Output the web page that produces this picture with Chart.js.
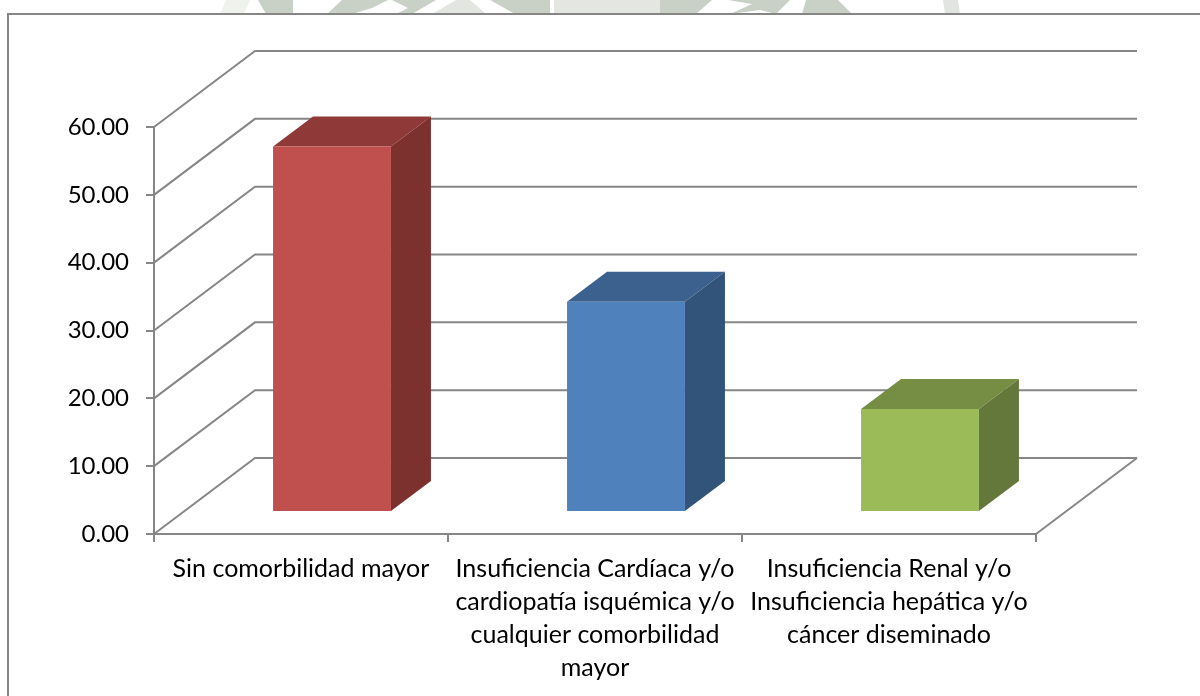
<!DOCTYPE html>
<html>
<head>
<meta charset="utf-8">
<style>
    html, body { margin: 0; padding: 0; background: #fff; overflow: hidden; }
    #marca { position: absolute; left: 0; top: 0; width: 1200px; height: 14px; }
    #marco { position: absolute; left: 7px; top: 13px; width: 1300px; height: 800px; border: 2px solid #868686; box-sizing: border-box; }
    #caja { position: absolute; left: 0; top: 0; width: 1200px; height: 696px; }
</style>
</head>
<body>
<svg id="marca" viewBox="0 0 1200 14">
    <polygon points="220,14 226,0 250,0 244,14" fill="#f0f2ee"/>
    <polygon points="258,0 293,0 293,14 266,14" fill="#c9d1c6"/>
    <polygon points="327,14 342,0 388,0 372,8 352,14" fill="#c9d1c6"/>
    <polygon points="392,0 436,0 412,14 396,14 408,8" fill="#c9d1c6"/>
    <polygon points="432,14 456,0 470,0 486,14" fill="#e3e6e0"/>
    <polygon points="490,0 550,0 550,14 515,14" fill="#c9d1c6"/>
    <rect x="554" y="0" width="106" height="14" fill="#e4e6e2"/>
    <polygon points="660,0 712,0 696,14 660,14" fill="#c9d1c6"/>
    <polygon points="728,0 790,0 776,14 760,10 730,14 752,4" fill="#c9d1c6"/>
    <polygon points="806,0 838,0 852,14 802,14" fill="#c9d1c6"/>
    <polygon points="943,0 958,0 960,14 945,14" fill="#e2e4e1"/>
</svg>
<div id="marco"></div>
<div id="caja"><canvas id="MyChart" width="1200" height="696"></canvas></div>

<script src="https://cdn.jsdelivr.net/npm/chart.js@4"></script>
<script>
const categorias = [
    "Sin comorbilidad mayor",
    ["Insuficiencia Cardíaca y/o", "cardiopatía isquémica y/o", "cualquier comorbilidad", "mayor"],
    ["Insuficiencia Renal y/o", "Insuficiencia hepática y/o", "cáncer diseminado"]
];
const valores = [53.9, 31.0, 15.2];
const marcasY = [0, 10, 20, 30, 40, 50, 60];

const colorFrente = ["#c0504d", "#4f81bd", "#9bbb59"];
const colorTapa = ["#8f3a38", "#3c618e", "#768e43"];
const colorLado = ["#7d312f", "#32537a", "#65783b"];
const colorLinea = "#868686";

// profundidad de la "caja" 3D
const fondoX = 101;
const fondoY = 76;
// las barras van un poco adentro del piso
const barraDX = 31;
const barraDY = 22;
// profundidad de cada barra
const cuboX = 40;
const cuboY = 30;

const paredes = {
    id: "paredes",
    beforeDatasetsDraw(chart) {
        const c = chart.ctx;
        const y = chart.scales.y;
        const a = chart.chartArea;
        c.save();
        c.strokeStyle = colorLinea;
        c.lineWidth = 2;
        marcasY.forEach(m => {
            const py = y.getPixelForValue(m);
            c.beginPath();
            c.moveTo(a.left, py);
            c.lineTo(a.left + fondoX, py - fondoY);
            c.lineTo(a.right + fondoX, py - fondoY);
            c.stroke();
        });
        // piso, lado derecho
        c.beginPath();
        c.moveTo(a.right, a.bottom);
        c.lineTo(a.right + fondoX, a.bottom - fondoY);
        c.stroke();
        c.restore();
    }
};

const cubos = {
    id: "cubos",
    beforeDatasetDraw(chart) {
        const c = chart.ctx;
        const barras = chart.getDatasetMeta(0).data;
        c.save();
        c.translate(barraDX, -barraDY);
        barras.forEach((b, i) => {
            const der = b.x + b.width / 2;
            const izq = b.x - b.width / 2;
            c.fillStyle = colorTapa[i];
            c.beginPath();
            c.moveTo(izq, b.y);
            c.lineTo(izq + cuboX, b.y - cuboY);
            c.lineTo(der + cuboX, b.y - cuboY);
            c.lineTo(der, b.y);
            c.fill();
            c.fillStyle = colorLado[i];
            c.beginPath();
            c.moveTo(der, b.y);
            c.lineTo(der + cuboX, b.y - cuboY);
            c.lineTo(der + cuboX, b.base - cuboY);
            c.lineTo(der, b.base);
            c.fill();
        });
    },
    afterDatasetDraw(chart) {
        chart.ctx.restore();
    }
};

new Chart(document.getElementById("MyChart").getContext("2d"), {
    type: "bar",
    data: {
        labels: categorias,
        datasets: [{
            data: valores,
            backgroundColor: colorFrente,
            categoryPercentage: 1,
            barPercentage: 0.401,
            clip: false
        }]
    },
    options: {
        responsive: false,
        animation: false,
        layout: { padding: { left: 30, right: 164, top: 127, bottom: 0 } },
        plugins: { legend: { display: false }, tooltip: { enabled: false } },
        scales: {
            x: {
                afterFit(s) { s.height = 162; },
                border: { color: colorLinea, width: 2 },
                grid: { drawOnChartArea: false, color: colorLinea, lineWidth: 2, tickLength: 8, offset: true },
                ticks: {
                    color: "#000",
                    maxRotation: 0,
                    autoSkip: false,
                    padding: 10,
                    font: { family: "Lato", size: 25, lineHeight: 1.32 }
                }
            },
            y: {
                min: 0,
                max: 60,
                afterFit(s) { s.width = 124; },
                afterBuildTicks(s) { s.ticks = marcasY.map(v => ({ value: v })); },
                border: { color: colorLinea, width: 2 },
                grid: { drawOnChartArea: false, color: colorLinea, lineWidth: 2, tickLength: 8 },
                ticks: {
                    color: "#000",
                    padding: 17,
                    callback: v => v.toFixed(2),
                    font: { family: "Lato", size: 24 }
                }
            }
        }
    },
    plugins: [paredes, cubos]
});
</script>
</body>
</html>
